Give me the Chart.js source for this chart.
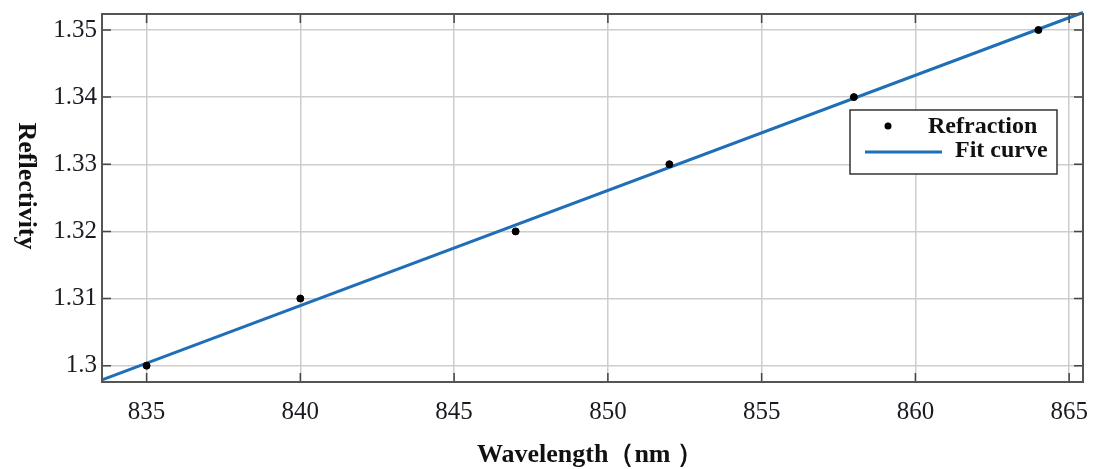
<!DOCTYPE html>
<html>
<head>
<meta charset="utf-8">
<script src="https://cdn.jsdelivr.net/npm/chart.js@4/dist/chart.umd.min.js"></script>
<style>
  body { margin: 0; background: #fff; }
  #wrap { width: 1098px; height: 469px; }
</style>
</head>
<body>
<div id="wrap"><canvas id="myChart" width="1098" height="469"></canvas></div>
<script>
// measured points
const wavelength = [835, 840, 847, 852, 858, 864]
const refraction = [1.30, 1.31, 1.32, 1.33, 1.34, 1.35]

// fitted line, read at the plot edges
const fitX = [833.55, 865.45]
const fitY = [1.2979, 1.3526]

const xTicks = [835, 840, 845, 850, 855, 860, 865]
const yTicks = [1.30, 1.31, 1.32, 1.33, 1.34, 1.35]
const yTickLabels = ['1.3', '1.31', '1.32', '1.33', '1.34', '1.35']

const xRange = [833.55, 865.45]
const yRange = [1.29757, 1.35238]

const xTitle = 'Wavelength（nm ）'
const yTitle = 'Reflectivity'

const serif = "'Liberation Serif', 'Times New Roman', serif"

// frame, inward tick marks on all four sides, axis titles, legend box
const framePlugin = {
  id: 'frame',
  afterDraw(chart) {
    const ctx = chart.ctx
    const a = chart.chartArea
    const xs = chart.scales.x, ys = chart.scales.y
    ctx.save()
    ctx.strokeStyle = '#444'
    ctx.lineWidth = 1.5
    xTicks.forEach(v => {
      const px = xs.getPixelForValue(v)
      ctx.beginPath()
      ctx.moveTo(px, a.bottom); ctx.lineTo(px, a.bottom - 9)
      ctx.moveTo(px, a.top); ctx.lineTo(px, a.top + 9)
      ctx.stroke()
    })
    yTicks.forEach(v => {
      const py = ys.getPixelForValue(v)
      ctx.beginPath()
      ctx.moveTo(a.left, py); ctx.lineTo(a.left + 9, py)
      ctx.moveTo(a.right, py); ctx.lineTo(a.right - 9, py)
      ctx.stroke()
    })
    ctx.strokeStyle = '#555'
    ctx.lineWidth = 2
    ctx.strokeRect(a.left, a.top, a.right - a.left, a.bottom - a.top)

    // axis titles
    ctx.fillStyle = '#111'
    ctx.font = 'bold 26px ' + serif
    ctx.textAlign = 'center'
    ctx.textBaseline = 'middle'
    ctx.fillText(xTitle, 590, 455)
    ctx.save()
    ctx.translate(26, 186)
    ctx.rotate(Math.PI / 2)
    ctx.fillText(yTitle, 0, 0)
    ctx.restore()

    // legend
    const lx = 850, ly = 110, lw = 207, lh = 64
    ctx.fillStyle = '#fff'
    ctx.fillRect(lx, ly, lw, lh)
    ctx.strokeStyle = '#333'
    ctx.lineWidth = 1.5
    ctx.strokeRect(lx, ly, lw, lh)
    ctx.fillStyle = '#000'
    ctx.beginPath()
    ctx.arc(888, 126, 3.5, 0, Math.PI * 2)
    ctx.fill()
    ctx.strokeStyle = '#1f6fb8'
    ctx.lineWidth = 3
    ctx.beginPath()
    ctx.moveTo(865, 152); ctx.lineTo(942, 152)
    ctx.stroke()
    ctx.fillStyle = '#111'
    ctx.font = 'bold 24px ' + serif
    ctx.textAlign = 'left'
    ctx.textBaseline = 'alphabetic'
    ctx.fillText('Refraction', 928, 133)
    ctx.fillText('Fit curve', 955, 157)
    ctx.restore()
  }
}

// edge labels sit inside the plot range, so the scales need no extra room
function noEdgePadding(s) {
  s.paddingTop = 0
  s.paddingBottom = 0
  s.paddingLeft = 0
  s.paddingRight = 0
}

const ctx = document.getElementById('myChart').getContext('2d')
const chart = new Chart(ctx, {
  type: 'scatter',
  data: {
    datasets: [{
      label: 'Refraction',
      data: wavelength.map((w, i) => ({ x: w, y: refraction[i] })),
      backgroundColor: '#000',
      borderColor: '#000',
      pointRadius: 3.5,
      order: 1
    }, {
      label: 'Fit curve',
      type: 'line',
      data: fitX.map((w, i) => ({ x: w, y: fitY[i] })),
      borderColor: '#1f6fb8',
      borderWidth: 3,
      pointRadius: 0,
      fill: false,
      order: 2
    }]
  },
  options: {
    responsive: false,
    animation: false,
    clip: false,
    layout: { padding: { left: 0, top: 14, right: 15, bottom: 0 } },
    plugins: {
      legend: { display: false },
      tooltip: { enabled: false }
    },
    scales: {
      x: {
        type: 'linear',
        min: xRange[0],
        max: xRange[1],
        afterBuildTicks: s => { s.ticks = xTicks.map(v => ({ value: v })) },
        afterFit: s => { s.height = 87; noEdgePadding(s) },
        grid: { color: '#cdcdcd', lineWidth: 1.5, drawTicks: false },
        border: { display: false },
        ticks: {
          padding: 15,
          color: '#1a1a22',
          font: { family: serif, size: 25 },
          callback: v => String(v)
        }
      },
      y: {
        type: 'linear',
        min: yRange[0],
        max: yRange[1],
        afterBuildTicks: s => { s.ticks = yTicks.map(v => ({ value: v })) },
        afterFit: s => { s.width = 102; noEdgePadding(s) },
        grid: { color: '#cdcdcd', lineWidth: 1.5, drawTicks: false },
        border: { display: false },
        ticks: {
          padding: 5,
          color: '#1a1a22',
          font: { family: serif, size: 25 },
          callback: (v, i) => yTickLabels[i]
        }
      }
    }
  },
  plugins: [framePlugin]
})
</script>
</body>
</html>
